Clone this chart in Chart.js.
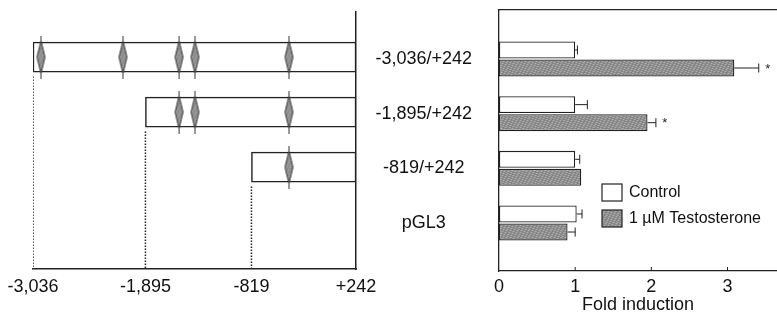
<!DOCTYPE html>
<html>
<head>
<meta charset="utf-8">
<script src="https://cdn.jsdelivr.net/npm/chart.js@4.4.0/dist/chart.umd.min.js"></script>
<style>
  html, body { margin: 0; padding: 0; background: #fff; }
  #wrap { position: relative; width: 777px; height: 325px; overflow: hidden; }
  #mapChart { position: absolute; left: 0; top: 0; }
  #foldChart { position: absolute; left: 375px; top: 0; }
</style>
</head>
<body>
<div id="wrap">
  <canvas id="mapChart" width="380" height="325"></canvas>
  <canvas id="foldChart" width="402" height="325"></canvas>
</div>
<script>
// promoter constructs (left panel)
const constructs = ['-3,036/+242', '-1,895/+242', '-819/+242', 'pGL3'];
const constructStart = [-3036, -1895, -819];
const constructEnd = 242;
const siteBp = [-2955, -2123, -1554, -1392, -438];
const bpTicks = [-3036, -1895, -819, 242];
const bpTickLabels = ['-3,036', '-1,895', '-819', '+242'];

// fold induction (right panel)
const seriesNames = ['Control', '1 µM Testosterone'];
const controlFold = [1.0, 1.0, 1.0, 1.02];
const controlErr = [0.03, 0.16, 0.06, 0.07];
const testoFold = [3.09, 1.95, 1.08, 0.90];
const testoErr = [0.32, 0.11, 0.0, 0.10];
const testoSig = [true, true, false, false];
const foldTicks = [0, 1, 2, 3];

Chart.defaults.font.family = '"Liberation Sans", Arial, sans-serif';
Chart.defaults.color = '#111';

const ink = '#222';
const axisFont = { size: 18, lineHeight: 1 };

// speckled grey fill like the scanned figure
function makeStipple() {
  const c = document.createElement('canvas');
  c.width = 11; c.height = 7;
  const g = c.getContext('2d');
  const shades = ['#6c6c6c', '#9a9a9a', '#828282', '#adadad', '#777777', '#a0a0a0', '#8c8c8c'];
  for (let k = 0; k < 77; k++) {
    g.fillStyle = shades[(k * k * 5 + k * 3 + 1) % 7];
    g.fillRect(k % 11, Math.floor(k / 11), 1, 1);
  }
  return g.createPattern(c, 'repeat');
}
const stipple = makeStipple();

// elongated diamond for binding sites
function makeSite() {
  const c = document.createElement('canvas');
  c.width = 11; c.height = 43;
  const g = c.getContext('2d');
  g.strokeStyle = '#333';
  g.lineWidth = 1;
  g.beginPath(); g.moveTo(5.5, 0); g.lineTo(5.5, 43); g.stroke();
  g.beginPath();
  g.moveTo(5.5, 5); g.lineTo(9.5, 21.5); g.lineTo(5.5, 38); g.lineTo(1.5, 21.5); g.closePath();
  g.fillStyle = stipple; g.fill(); g.stroke();
  return c;
}
const siteMark = makeSite();

function noPad(s) {
  s.paddingLeft = 0; s.paddingRight = 0; s.paddingTop = 0; s.paddingBottom = 0;
}

// ---------- left: construct map ----------
const boxData = constructStart.map((s, i) => ({ x: [s, constructEnd], y: i }));
const siteData = [];
constructStart.forEach((s, i) => {
  siteBp.filter(p => p >= s).forEach(p => siteData.push({ x: p, y: i }));
});
const guideSets = constructStart.map((s, i) => ({
  type: 'line',
  data: [{ x: s, y: i + 0.35 }, { x: s, y: 3.85 }],
  borderColor: '#222',
  borderWidth: 1.5,
  borderDash: [1.5, 1.5],
  pointRadius: 0,
  order: 1
}));

new Chart(document.getElementById('mapChart'), {
  type: 'bar',
  data: {
    datasets: [
      {
        type: 'scatter',
        data: siteData,
        pointStyle: siteMark,
        pointRadius: 5,
        order: 0
      },
      {
        indexAxis: 'y',
        data: boxData,
        backgroundColor: '#fff',
        borderColor: ink,
        borderWidth: 1.5,
        borderSkipped: false,
        barThickness: 30,
        order: 2
      },
      ...guideSets
    ]
  },
  options: {
    responsive: false,
    animation: false,
    layout: { padding: { top: 12, bottom: 20 } },
    plugins: { legend: { display: false }, tooltip: { enabled: false } },
    scales: {
      x: {
        type: 'linear',
        offset: false,
        min: bpTicks[0], max: constructEnd,
        grid: { display: false, drawTicks: false, offset: false },
        border: { display: true, color: ink, width: 1.5 },
        afterBuildTicks: s => { s.ticks = bpTicks.map(v => ({ value: v })); },
        afterFit: noPad,
        ticks: {
          padding: 9,
          font: axisFont,
          callback: v => bpTickLabels[bpTicks.indexOf(v)]
        }
      },
      y: {
        type: 'linear',
        offset: false,
        position: 'right',
        reverse: true,
        min: -0.82, max: 3.85,
        grid: { display: false, drawTicks: false, offset: false },
        border: { display: true, color: ink, width: 1.5 },
        ticks: { display: false },
        afterFit: s => { s.width = 24; noPad(s); }
      },
      yl: {
        type: 'linear',
        offset: false,
        position: 'left',
        grid: { display: false, drawTicks: false },
        border: { display: false },
        ticks: { display: false },
        afterFit: s => { s.width = 33; noPad(s); }
      }
    }
  }
});

// ---------- right: fold induction ----------
const foldExtras = {
  id: 'foldExtras',
  afterDatasetsDraw(chart) {
    const { ctx, chartArea } = chart;
    const xs = chart.scales.x;
    const vals = [controlFold, testoFold];
    const errs = [controlErr, testoErr];
    ctx.save();
    ctx.strokeStyle = ink;
    ctx.lineWidth = 1;
    errs.forEach((errSet, d) => {
      const meta = chart.getDatasetMeta(d);
      meta.data.forEach((bar, i) => {
        const x1 = xs.getPixelForValue(vals[d][i] + errSet[i]);
        if (errSet[i] > 0) {
          const x0 = xs.getPixelForValue(vals[d][i]);
          ctx.beginPath();
          ctx.moveTo(x0, bar.y); ctx.lineTo(x1, bar.y);
          ctx.moveTo(x1, bar.y - 4.5); ctx.lineTo(x1, bar.y + 4.5);
          ctx.stroke();
        }
        if (d === 1 && testoSig[i]) {
          ctx.fillStyle = ink;
          ctx.font = '13px "Liberation Sans", Arial, sans-serif';
          ctx.textAlign = 'center';
          ctx.textBaseline = 'middle';
          ctx.fillText('*', x1 + 9, bar.y + 1);
        }
      });
    });
    // small inward tick marks
    foldTicks.slice(1).forEach(v => {
      const x = xs.getPixelForValue(v);
      ctx.beginPath();
      ctx.moveTo(x, chartArea.bottom); ctx.lineTo(x, chartArea.bottom - 4);
      ctx.stroke();
    });
    ctx.restore();
  },
  afterDraw(chart) {
    const { ctx, chartArea } = chart;
    const bx = chartArea.left + 103;
    const by = chartArea.top + 174;
    ctx.save();
    ctx.font = '16px "Liberation Sans", Arial, sans-serif';
    ctx.textBaseline = 'middle';
    ctx.textAlign = 'left';
    chart.data.datasets.forEach((ds, i) => {
      const y = by + i * 26;
      ctx.fillStyle = ds.backgroundColor;
      ctx.fillRect(bx, y, 20, 17);
      ctx.strokeStyle = ink;
      ctx.lineWidth = 1.2;
      ctx.strokeRect(bx, y, 20, 17);
      ctx.fillStyle = '#111';
      ctx.fillText(ds.label, bx + 27, y + 9);
    });
    ctx.restore();
  }
};

new Chart(document.getElementById('foldChart'), {
  type: 'bar',
  data: {
    datasets: [
      {
        label: seriesNames[0],
        indexAxis: 'y',
        data: controlFold.map((v, i) => ({ x: v, y: i })),
        backgroundColor: '#fff',
        borderColor: ink,
        borderWidth: 1.3,
        borderSkipped: false,
        categoryPercentage: 0.66,
        barPercentage: 0.94
      },
      {
        label: seriesNames[1],
        indexAxis: 'y',
        data: testoFold.map((v, i) => ({ x: v, y: i })),
        backgroundColor: stipple,
        borderColor: ink,
        borderWidth: 1.3,
        borderSkipped: false,
        categoryPercentage: 0.66,
        barPercentage: 0.94
      }
    ]
  },
  options: {
    responsive: false,
    animation: false,
    layout: { padding: { top: 10, bottom: 11 } },
    plugins: { legend: { display: false }, tooltip: { enabled: false } },
    scales: {
      x: {
        type: 'linear',
        offset: false,
        min: 0, max: 3.65,
        grid: { display: false, drawTicks: false, offset: false },
        border: { display: true, color: ink, width: 1.3 },
        afterBuildTicks: s => { s.ticks = foldTicks.map(v => ({ value: v })); },
        afterFit: noPad,
        ticks: { padding: 7, font: axisFont },
        title: {
          display: true,
          text: 'Fold induction',
          font: axisFont,
          color: '#111',
          padding: { top: -7, bottom: 0 }
        }
      },
      x2: {
        type: 'linear',
        offset: false,
        position: 'top',
        grid: { display: false, drawTicks: false, offset: false },
        border: { display: true, color: ink, width: 1.3 },
        ticks: { display: false },
        afterFit: s => { s.height = 0; noPad(s); }
      },
      y: {
        type: 'linear',
        offset: false,
        reverse: true,
        min: -0.896, max: 3.878,
        grid: { display: false, drawTicks: false, offset: false },
        border: { display: true, color: ink, width: 1.3 },
        afterBuildTicks: s => { s.ticks = foldTicks.map(v => ({ value: v })); },
        afterFit: s => { s.width = 124; noPad(s); },
        ticks: {
          padding: 27,
          crossAlign: 'center',
          font: axisFont,
          callback: v => constructs[v]
        }
      }
    }
  },
  plugins: [foldExtras]
});
</script>
</body>
</html>
